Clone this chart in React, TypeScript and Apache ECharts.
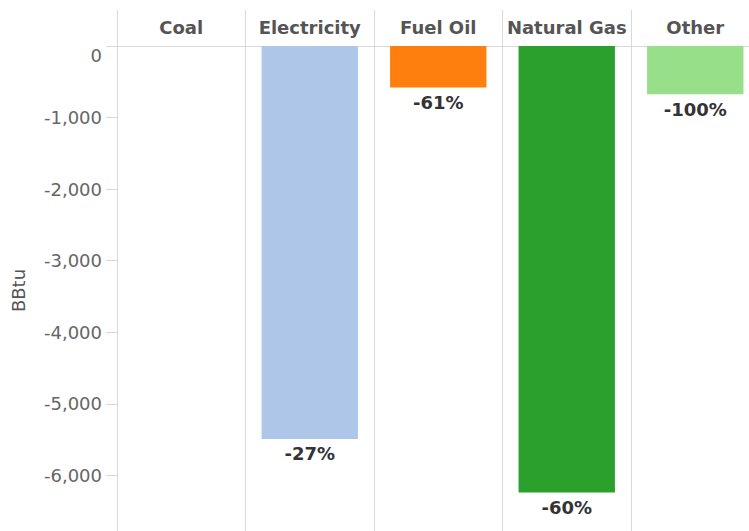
import { useEffect, useRef } from "react";
import * as echarts from "echarts";

// Change in consumption by fuel type (BBtu) and the percent change shown under each bar
const fuels = ["Coal", "Electricity", "Fuel Oil", "Natural Gas", "Other"];
const changeBBtu = [0, -5490, -580, -6240, -675];
const pctChange: (number | null)[] = [null, -27, -61, -60, -100];
const fuelColors = ["#1f77b4", "#aec7e8", "#ff7f0e", "#2ca02c", "#98df8a"];

const AXIS_MIN = -7000;
const AXIS_MAX = 0;
const AXIS_STEP = 1000;

const FONT = "DejaVu Sans";
const RULE = "#d9d9d9";

export default function App() {
  const ref = useRef<HTMLDivElement>(null);

  useEffect(() => {
    if (!ref.current) return;
    const chart = echarts.init(ref.current, undefined, { renderer: "svg" });
    chart.setOption({
      animation: false,
      backgroundColor: "#ffffff",
      grid: {
        left: 117,
        top: 46,
        right: -10.5,
        bottom: -16,
        containLabel: false,
        outerBoundsMode: "none",
      },
      xAxis: {
        type: "category",
        position: "top",
        data: fuels,
        axisLine: { show: true, lineStyle: { color: RULE, width: 1 } },
        axisTick: { show: true, length: 36, alignWithLabel: false, lineStyle: { color: RULE, width: 1 } },
        splitLine: { show: true, interval: 0, lineStyle: { color: RULE, width: 1 } },
        axisLabel: {
          margin: 10,
          interval: 0,
          fontFamily: FONT,
          fontSize: 18,
          fontWeight: "bold",
          lineHeight: 18,
          color: "#555555",
        },
      },
      yAxis: {
        type: "value",
        min: AXIS_MIN,
        max: AXIS_MAX,
        interval: AXIS_STEP,
        name: "BBtu",
        nameLocation: "middle",
        nameRotate: 90,
        nameGap: 90,
        nameTextStyle: {
          fontFamily: FONT,
          fontSize: 18,
          color: "#555555",
          padding: [0, 0, 0, 12],
        },
        axisLine: { show: true, lineStyle: { color: RULE, width: 1 } },
        axisTick: { show: true, length: 11, lineStyle: { color: RULE, width: 1 } },
        splitLine: { show: false },
        axisLabel: {
          margin: 15,
          showMinLabel: false,
          fontFamily: FONT,
          fontSize: 18,
          lineHeight: 18,
          color: "#666666",
          verticalAlignMaxLabel: "top",
          formatter: (v: number) => v.toLocaleString("en-US"),
        },
      },
      series: [
        {
          type: "bar",
          barWidth: "75%",
          data: changeBBtu.map((v, i) => ({
            value: v,
            itemStyle: { color: fuelColors[i] },
          })),
          label: {
            show: true,
            position: "bottom",
            distance: 6,
            fontFamily: FONT,
            fontSize: 18,
            fontWeight: "bold",
            lineHeight: 18,
            color: "#333333",
            formatter: (p: { dataIndex: number }) => {
              const pct = pctChange[p.dataIndex];
              return pct === null ? "" : `${pct}%`;
            },
          },
        },
      ],
    });
    return () => chart.dispose();
  }, []);

  return (
    <div
      ref={ref}
      style={{ position: "absolute", left: 0, top: 0, width: 749, height: 531 }}
    />
  );
}
